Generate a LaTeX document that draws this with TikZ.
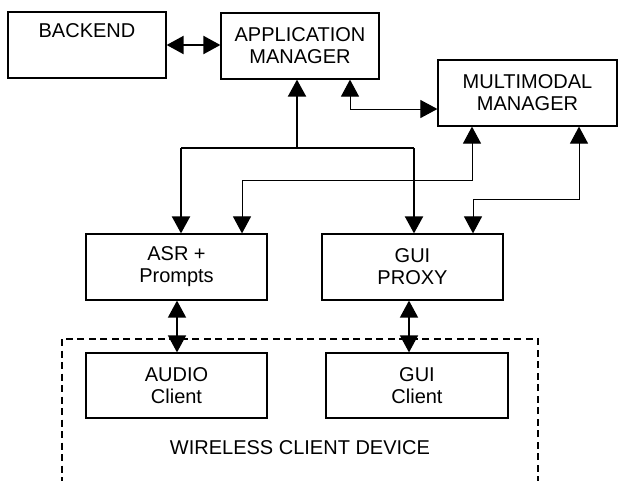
\documentclass[tikz,border=0pt]{standalone}
\usepackage{fontspec}
\setmainfont{Liberation Sans}
\usetikzlibrary{arrows.meta}
\begin{document}
\begin{tikzpicture}[x=1pt,y=-1pt,
  >={Triangle[length=17pt,width=18pt]},
  box/.style={draw,line width=1.2pt,rectangle,inner sep=0pt,align=center,
    font=\fontsize{20}{22}\selectfont},
  thickline/.style={line width=2pt},
  thinline/.style={line width=1pt},
  midline/.style={line width=1.6pt}]
\useasboundingbox (0,0) rectangle (618,480);
\fill[white] (0,0) rectangle (618,480);
% boxes
\node[box,minimum width=158pt,minimum height=66pt] (backend) at (87,45) {BACKEND\\ \strut};
\node[box,minimum width=158pt,minimum height=66pt] (appmgr) at (300,46) {APPLICATION\\MANAGER};
\node[box,minimum width=179pt,minimum height=66pt] (mm) at (527.5,93) {MULTIMODAL\\MANAGER};
\node[box,minimum width=181pt,minimum height=66pt] (asr) at (176.5,267) {ASR +\\Prompts};
\node[box,minimum width=181pt,minimum height=66pt] (gproxy) at (412.5,267) {GUI\\PROXY};
\node[box,minimum width=181pt,minimum height=65pt] (audio) at (176.5,385.5) {AUDIO\\Client};
\node[box,minimum width=182pt,minimum height=65pt] (gclient) at (417,385.5) {GUI\\Client};
% device frame
\coordinate (dtl) at (62,339);
\coordinate (dbr) at (538,495);
\draw[line width=1.6pt,dash pattern=on 7pt off 4.5pt] (dtl) rectangle (dbr);
\node[font=\fontsize{20}{22}\selectfont] (wcd) at (300,448) {WIRELESS CLIENT DEVICE};
% backend <-> application manager
\draw[thickline,<->] (backend.east) -- (appmgr.west |- backend.east);
% tree from application manager
\coordinate (j) at (297,148);
\coordinate (ja) at (181,148);
\coordinate (jg) at (414,148);
\draw[thickline,->] (j) -- (appmgr.south -| j);
\draw[thickline] (ja) -- (jg);
\draw[thickline,->] (ja) -- (asr.north -| ja);
\draw[thickline,->] (jg) -- (gproxy.north -| jg);
% application manager <-> multimodal manager
\coordinate (c1) at (350,109);
\draw[thinline,<->] (appmgr.south -| c1) |- (mm.west |- c1);
% multimodal manager <-> ASR
\coordinate (c2) at (472,180);
\coordinate (c3) at (242,180);
\draw[thinline,<->] (mm.south -| c2) -- (c2) -- (c3) -- (asr.north -| c3);
% multimodal manager <-> GUI proxy
\coordinate (c4) at (579,199);
\coordinate (c5) at (473,199);
\draw[thinline,<->] (mm.south -| c4) -- (c4) -- (c5) -- (gproxy.north -| c5);
% servers <-> clients
\coordinate (c6) at (177,320);
\coordinate (c7) at (409,320);
\draw[midline,<->] (asr.south -| c6) -- (audio.north -| c6);
\draw[midline,<->] (gproxy.south -| c7) -- (gclient.north -| c7);
\end{tikzpicture}
\end{document}
